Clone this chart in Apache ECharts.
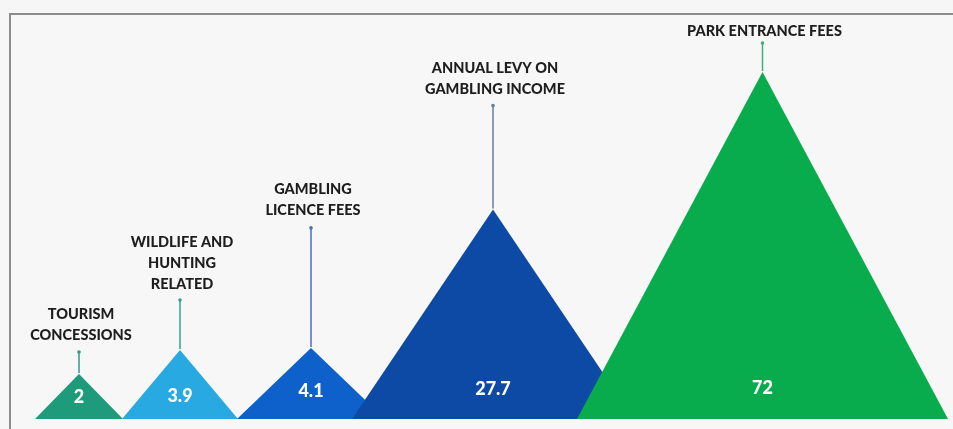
<!DOCTYPE html>
<html>
<head>
<meta charset="utf-8">
<script src="https://cdn.jsdelivr.net/npm/echarts@6/dist/echarts.min.js"></script>
<style>
  html, body { margin: 0; padding: 0; background: #f6f6f6; }
  #chart { width: 953px; height: 429px; }
</style>
</head>
<body>
<div id="chart"></div>
<script>
// data
const categories = [
  'TOURISM\nCONCESSIONS',
  'WILDLIFE AND\nHUNTING\nRELATED',
  'GAMBLING\nLICENCE FEES',
  'ANNUAL LEVY ON\nGAMBLING INCOME',
  'PARK ENTRANCE FEES'
];
const values = [2, 3.9, 4.1, 27.7, 72];

// styles / layout
const colors = ['#1d9b7b', '#28a9e1', '#0e60cb', '#0d4aa6', '#09ac4d'];
const leaderColors = ['#2f9c84', '#3a9c8e', '#4a72bd', '#62809f', '#3caf7c'];
const baseLeft = [35, 122, 237, 352, 577];   // px
const baseWidth = [88, 116, 148, 282, 371];  // px
const leaderLen = [22, 50, 120, 104, 29];
const labelGap = [6, 5, 7, 6, 1];
const valueOffset = [22, 23, 28, 30, 31];

// infographic uses a square-root style height scale
const heightData = values.map((v, i) => [i, Math.sqrt(v), v]);

const chart = echarts.init(document.getElementById('chart'));

const option = {
  backgroundColor: '#f6f6f6',
  animation: false,
  grid: { left: 0, right: 0, top: 72, bottom: 10 },
  xAxis: { type: 'category', data: categories, show: false },
  yAxis: { type: 'value', min: 0.36, max: 'dataMax', show: false },
  graphic: [
    {
      type: 'rect',
      shape: { x: 10, y: 14, width: 960, height: 430 },
      style: { fill: '#f7f7f7', stroke: '#8c8c8c', lineWidth: 2 },
      z: -10
    }
  ],
  series: [
    {
      type: 'custom',
      clip: false,
      data: heightData,
      renderItem: function (params, api) {
        const i = params.dataIndex;
        const cs = params.coordSys;
        const baseY = cs.y + cs.height;
        const topY = api.coord([i, api.value(1)])[1];
        const x0 = baseLeft[i];
        const x1 = x0 + baseWidth[i];
        const cx = (x0 + x1) / 2;
        const leaderTop = topY - leaderLen[i];
        return {
          type: 'group',
          children: [
            {
              type: 'polygon',
              shape: { points: [[x0, baseY], [cx, topY], [x1, baseY]] },
              style: { fill: colors[i] }
            },
            {
              type: 'text',
              style: {
                x: cx,
                y: baseY - valueOffset[i],
                text: String(api.value(2)),
                fill: '#ffffff',
                font: '900 18px Lato',
                align: 'center',
                verticalAlign: 'middle'
              }
            },
            {
              type: 'line',
              shape: { x1: cx, y1: topY - 1, x2: cx, y2: leaderTop },
              style: { stroke: leaderColors[i], lineWidth: 1.5 }
            },
            {
              type: 'circle',
              shape: { cx: cx, cy: leaderTop, r: 1.8 },
              style: { fill: leaderColors[i] }
            },
            {
              type: 'text',
              style: {
                x: cx + 2,
                y: leaderTop - labelGap[i],
                text: categories[i],
                fill: '#1e1e1e',
                font: '900 14.5px Lato',
                lineHeight: 21,
                align: 'center',
                verticalAlign: 'bottom'
              }
            }
          ]
        };
      }
    }
  ]
};

chart.setOption(option);
</script>
</body>
</html>
